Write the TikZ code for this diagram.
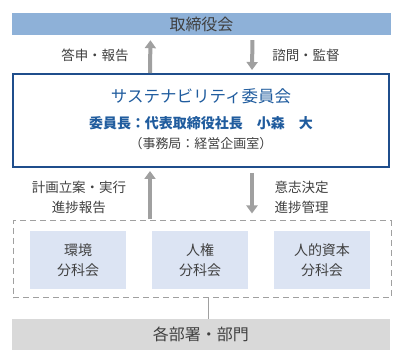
\documentclass[tikz,border=0pt]{standalone}
\usepackage{fontspec}
\setmainfont{Noto Sans CJK JP}
\usepackage{tikz}
\usetikzlibrary{arrows.meta, positioning, calc}

\definecolor{boardblue}{RGB}{142,177,216}
\definecolor{navyline}{RGB}{31,78,140}
\definecolor{titleblue}{RGB}{32,92,158}
\definecolor{subfill}{RGB}{220,228,243}
\definecolor{deptgray}{RGB}{217,217,217}
\definecolor{arrowgray}{RGB}{160,160,160}
\definecolor{textgray}{RGB}{64,64,64}

\begin{document}
\begin{tikzpicture}[
    x=1pt, y=-1pt,
    % --- STYLES ---
    bar/.style={rectangle, inner sep=0pt, minimum width=379pt, text=textgray, font=\fontsize{16}{19}\selectfont},
    committee/.style={rectangle, draw=navyline, line width=2pt, minimum width=376pt, minimum height=93pt, inner sep=0pt},
    group_frame/.style={rectangle, draw=arrowgray, dashed, dash pattern=on 6pt off 4pt, line width=1pt, minimum width=378pt, minimum height=77pt, inner sep=0pt},
    sub_box/.style={rectangle, fill=subfill, minimum width=96pt, minimum height=58pt, inner sep=0pt, align=center, text=textgray, font=\fontsize{14}{20}\selectfont},
    % Flow Styles
    flow_arrow/.style={-{Triangle[length=8pt, width=11pt]}, arrowgray, line width=4pt},
    link_line/.style={arrowgray, line width=0.8pt},
    label_text/.style={align=center, text=textgray, font=\fontsize{13.5}{19.5}\selectfont}
]
\useasboundingbox (0,0) rectangle (400,361);

% --- 1. BOARD (top bar) ---
\node[bar, fill=boardblue, minimum height=22pt] (board) at (201.5,24) {取締役会};

% --- 2. SUSTAINABILITY COMMITTEE ---
\node[committee] (sc) at (201,120.5) {};
\node[text=titleblue, font=\fontsize{16.5}{20}\selectfont] (sc_title) at (201,96) {サステナビリティ委員会};
\node[text=titleblue, font=\fontsize{14}{18}\selectfont\bfseries] (sc_chair) at (201,123) {委員長：代表取締役社長　小森　大};
\node[text=textgray, font=\fontsize{13}{17}\selectfont] (sc_office) at (201,144) {（事務局：経営企画室）};

% --- 3. SUBCOMMITTEES (dashed group) ---
\node[group_frame] (grp) at (202,259.5) {};
\node[sub_box] (env) at (78,260) {環境\\分科会};
\node[sub_box] (rights) at (200,260) {人権\\分科会};
\node[sub_box] (capital) at (322,260) {人的資本\\分科会};

% --- 4. DEPARTMENTS (bottom bar) ---
\node[bar, fill=deptgray, minimum width=378pt, minimum height=31pt] (dept) at (201,334.5) {各部署・部門};

% --- 5. ARROWS ---
% board <-> committee
\draw[flow_arrow, shorten >=5pt] ([xshift=-51pt]sc.north) -- ([xshift=-51pt]board.south);
\draw[flow_arrow, shorten <=5pt, shorten >=3pt] ([xshift=51pt]board.south) -- ([xshift=51pt]sc.north);
% committee <-> subcommittees
\draw[flow_arrow, shorten >=3pt, shorten <=1pt] ([xshift=-52pt]grp.north) -- ([xshift=-52pt]grp.north |- sc.south);
\draw[flow_arrow, shorten <=5pt, shorten >=7pt] ([xshift=50pt]grp.north |- sc.south) -- ([xshift=50pt]grp.north);
% subcommittees -- departments
\draw[link_line] ([xshift=6pt]grp.south) -- ([xshift=6pt]grp.south |- dept.north);

% --- LABELS ---
\node[label_text] (lbl_report) at (95,55) {答申・報告};
\node[label_text] (lbl_advise) at (306,55) {諮問・監督};
\node[label_text] (lbl_plan) at (79,197.5) {計画立案・実行\\進捗報告};
\node[label_text, anchor=west] (lbl_decide) at (271,197.5) {意志決定\\進捗管理};

\end{tikzpicture}
\end{document}
